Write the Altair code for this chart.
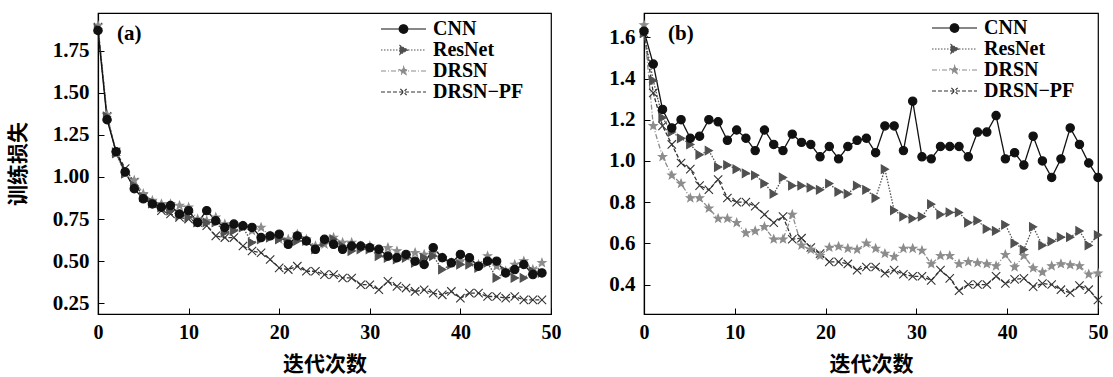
import math
import altair as alt
import pandas as pd

# ---------------- data ----------------
models = ["CNN", "ResNet", "DRSN", "DRSN−PF"]

epochs_a = list(range(50))
cnn_a = [1.87, 1.34, 1.15, 1.03, 0.93, 0.87, 0.84, 0.82, 0.83, 0.78, 0.80, 0.73, 0.80, 0.74, 0.70, 0.72, 0.71, 0.70, 0.64, 0.65,
         0.66, 0.60, 0.65, 0.62, 0.57, 0.63, 0.60, 0.57, 0.59, 0.59, 0.58, 0.57, 0.53, 0.52, 0.54, 0.50, 0.48, 0.58, 0.52, 0.49,
         0.54, 0.52, 0.47, 0.50, 0.50, 0.43, 0.45, 0.48, 0.42, 0.43]
resnet_a = [1.88, 1.36, 1.14, 1.02, 0.95, 0.88, 0.85, 0.82, 0.80, 0.77, 0.76, 0.73, 0.73, 0.73, 0.67, 0.68, 0.70, 0.61, 0.63, 0.64,
            0.63, 0.61, 0.62, 0.62, 0.57, 0.61, 0.63, 0.59, 0.56, 0.57, 0.57, 0.53, 0.52, 0.51, 0.52, 0.49, 0.52, 0.53, 0.45, 0.48,
            0.48, 0.48, 0.46, 0.49, 0.40, 0.44, 0.40, 0.40, 0.44, 0.43]
drsn_a = [1.90, 1.37, 1.14, 1.02, 0.98, 0.90, 0.86, 0.84, 0.84, 0.83, 0.82, 0.75, 0.74, 0.76, 0.72, 0.70, 0.71, 0.68, 0.70, 0.65,
          0.63, 0.63, 0.66, 0.63, 0.59, 0.60, 0.64, 0.61, 0.61, 0.59, 0.59, 0.56, 0.58, 0.56, 0.53, 0.55, 0.54, 0.55, 0.52, 0.49,
          0.50, 0.50, 0.48, 0.53, 0.47, 0.44, 0.48, 0.50, 0.45, 0.49]
drsnpf_a = [1.89, 1.36, 1.15, 1.05, 0.97, 0.88, 0.84, 0.80, 0.78, 0.76, 0.75, 0.73, 0.71, 0.65, 0.64, 0.64, 0.59, 0.56, 0.55, 0.51,
            0.46, 0.45, 0.47, 0.44, 0.44, 0.42, 0.42, 0.40, 0.40, 0.36, 0.36, 0.33, 0.38, 0.35, 0.34, 0.32, 0.33, 0.31, 0.30, 0.32,
            0.28, 0.31, 0.31, 0.29, 0.29, 0.28, 0.29, 0.27, 0.27, 0.27]

# panel (b): 50 samples spread evenly over 0..50
epochs_b = [round(i * 50 / 49, 4) for i in range(50)]
cnn_b = [1.63, 1.47, 1.25, 1.16, 1.20, 1.11, 1.12, 1.20, 1.19, 1.10, 1.15, 1.11, 1.05, 1.15, 1.08, 1.05, 1.13, 1.09, 1.08, 1.02,
         1.07, 1.01, 1.07, 1.10, 1.11, 1.04, 1.17, 1.17, 1.05, 1.29, 1.02, 1.01, 1.07, 1.07, 1.07, 1.02, 1.14, 1.14, 1.22, 1.01,
         1.04, 0.98, 1.12, 1.00, 0.92, 1.01, 1.16, 1.08, 0.99, 0.92]
resnet_b = [1.62, 1.39, 1.21, 1.14, 1.11, 1.08, 1.03, 1.05, 0.97, 0.98, 0.96, 0.94, 0.93, 0.89, 0.84, 0.92, 0.88, 0.88, 0.87, 0.86,
            0.89, 0.85, 0.84, 0.88, 0.86, 0.82, 0.96, 0.76, 0.73, 0.72, 0.73, 0.79, 0.74, 0.75, 0.75, 0.70, 0.71, 0.67, 0.66, 0.69,
            0.60, 0.57, 0.68, 0.59, 0.61, 0.63, 0.63, 0.66, 0.59, 0.64]
drsn_b = [1.66, 1.17, 1.02, 0.93, 0.89, 0.82, 0.82, 0.77, 0.72, 0.72, 0.70, 0.65, 0.66, 0.68, 0.62, 0.62, 0.74, 0.59, 0.57, 0.54,
          0.58, 0.585, 0.575, 0.57, 0.60, 0.575, 0.55, 0.535, 0.575, 0.575, 0.565, 0.50, 0.54, 0.54, 0.50, 0.51, 0.505, 0.50, 0.49, 0.545,
          0.485, 0.54, 0.48, 0.46, 0.49, 0.50, 0.495, 0.49, 0.45, 0.455]
drsnpf_b = [1.62, 1.33, 1.17, 1.08, 0.99, 0.96, 0.88, 0.86, 0.91, 0.82, 0.80, 0.80, 0.78, 0.74, 0.70, 0.73, 0.62, 0.625, 0.58, 0.55,
            0.51, 0.51, 0.50, 0.47, 0.485, 0.485, 0.455, 0.47, 0.45, 0.44, 0.44, 0.42, 0.47, 0.43, 0.37, 0.40, 0.40, 0.40, 0.44, 0.405,
            0.425, 0.43, 0.39, 0.405, 0.40, 0.375, 0.36, 0.395, 0.375, 0.325]

x_ticks = [0, 10, 20, 30, 40, 50]
y_ticks_a = [0.25, 0.50, 0.75, 1.00, 1.25, 1.50, 1.75]
y_ticks_b = [0.4, 0.6, 0.8, 1.0, 1.2, 1.4, 1.6]

# ---------------- styles ----------------
colors = ["#111111", "#505050", "#8c8c8c", "#333333"]
fills = ["#111111", "#505050", "#8c8c8c", "transparent"]
dashes = [[1, 0], [1.5, 1.5], [5, 2, 1, 2], [4, 2]]


def star(scale=1.0):
    pts = []
    for k in range(10):
        ang = math.radians(-90 + 36 * k)
        r = scale if k % 2 == 0 else scale * 0.42
        pts.append(f"{r * math.cos(ang):.3f},{r * math.sin(ang):.3f}")
    return "M" + "L".join(pts) + "Z"


xmark = "M-1,-1L1,1M-1,1L1,-1"
point_shapes = ["circle", "triangle-right", star(1.0), xmark]

line_seg = "M-1,0L1,0"
leg_shapes = [
    line_seg + "M-0.19,0A0.19,0.19,0,1,1,0.19,0A0.19,0.19,0,1,1,-0.19,0Z",
    line_seg + "M-0.16,-0.2L0.2,0L-0.16,0.2Z",
    line_seg + star(0.19),
    line_seg + "M-0.14,-0.14L0.14,0.14M-0.14,0.14L0.14,-0.14",
]

SERIF = "Liberation Serif"
CJK = "Noto Sans CJK SC"
H = 301


def panel(xs, series, ydomain, yticks, yfmt, ytitle, label, legx, legy, width, tagx):
    rows = []
    for m in ["DRSN−PF", "DRSN", "ResNet", "CNN"]:
        for x, v in zip(xs, series[m]):
            rows.append({"x": x, "loss": v, "model": m})
    df = pd.DataFrame(rows)
    base = alt.Chart(df)
    xscale = alt.Scale(domain=[0, 50], nice=False, zero=False)
    yscale = alt.Scale(domain=ydomain, nice=False, zero=False)

    ax_lab_x = alt.Axis(values=x_ticks, format="d", ticks=False, domain=True, domainColor="black",
                        domainWidth=1.2, labelFont=SERIF, labelFontSize=20, labelFontWeight="bold",
                        labelColor="black", labelPadding=8, labelFlush=False, grid=False,
                        titleFont=CJK, titleFontSize=21, titleFontWeight="bold", titleColor="black",
                        titlePadding=11)
    yax_kw = dict(values=yticks, format=yfmt, ticks=False, domain=True, domainColor="black",
                  domainWidth=1.2, labelFont=SERIF, labelFontSize=21, labelFontWeight="bold",
                  labelColor="black", labelPadding=9, labelFlush=False, grid=False)
    if ytitle:
        yax_kw.update(titleFont=CJK, titleFontSize=21, titleFontWeight="bold", titleColor="black",
                      titlePadding=24)
    ax_lab_y = alt.Axis(**yax_kw)
    ax_tick_x = alt.Axis(values=x_ticks, orient="bottom", ticks=True, tickSize=6, tickColor="black",
                         tickWidth=1, domain=False, labels=False, grid=False, offset=-6)
    ax_tick_y = alt.Axis(values=yticks, orient="left", ticks=True, tickSize=6, tickColor="black",
                         tickWidth=1, domain=False, labels=False, grid=False, offset=-6)

    lines = base.mark_line(strokeWidth=1.3).encode(
        x=alt.X("x:Q", scale=xscale, axis=ax_lab_x, title="迭代次数"),
        y=alt.Y("loss:Q", scale=yscale, axis=ax_lab_y, title=ytitle if ytitle else None),
        stroke=alt.Stroke("model:N", scale=alt.Scale(domain=models, range=colors), legend=None),
        strokeDash=alt.StrokeDash("model:N", scale=alt.Scale(domain=models, range=dashes), legend=None),
    )
    points = base.mark_point(opacity=1, strokeWidth=1.1, size=70).encode(
        x=alt.X("x:Q", scale=xscale, axis=ax_tick_x, title=None),
        y=alt.Y("loss:Q", scale=yscale, axis=ax_tick_y, title=None),
        shape=alt.Shape("model:N", scale=alt.Scale(domain=models, range=point_shapes), legend=None),
        stroke=alt.Stroke("model:N", scale=alt.Scale(domain=models, range=colors), legend=None),
        fill=alt.Fill("model:N", scale=alt.Scale(domain=models, range=fills), legend=None),
    )
    leg = alt.Legend(orient="none", legendX=legx, legendY=legy, title=None, symbolSize=2025,
                     clipHeight=21, labelFont=SERIF, labelFontSize=20, labelFontWeight="bold",
                     labelColor="black", labelOffset=6, padding=0, rowPadding=0,
                     symbolStrokeWidth=1.2)
    legend_layer = base.transform_filter("datum.x < -100").mark_point(opacity=1, strokeWidth=1.2).encode(
        shape=alt.Shape("model:N", scale=alt.Scale(domain=models, range=leg_shapes), legend=leg),
        stroke=alt.Stroke("model:N", scale=alt.Scale(domain=models, range=colors), legend=leg),
        fill=alt.Fill("model:N", scale=alt.Scale(domain=models, range=fills), legend=leg),
        strokeDash=alt.StrokeDash("model:N", scale=alt.Scale(domain=models, range=dashes), legend=leg),
    )
    tag = alt.Chart(pd.DataFrame({"t": [label]})).mark_text(
        align="left", baseline="middle", font=SERIF, fontSize=21, fontWeight="bold", color="black"
    ).encode(text="t:N", x=alt.value(tagx), y=alt.value(21))

    return alt.layer(lines, points, legend_layer, tag).resolve_scale(
        shape="independent", stroke="independent", fill="independent", strokeDash="independent"
    ).resolve_axis(x="independent", y="independent").properties(width=width, height=H)


series_a = {"CNN": cnn_a, "ResNet": resnet_a, "DRSN": drsn_a, "DRSN−PF": drsnpf_a}
series_b = {"CNN": cnn_b, "ResNet": resnet_b, "DRSN": drsn_b, "DRSN−PF": drsnpf_b}

pa = panel(epochs_a, series_a, [0.186, 1.974], y_ticks_a, ".2f", "训练损失", "(a)", 282, 5.5, 453, 19)
pb = panel(epochs_b, series_b, [0.257, 1.718], y_ticks_b, ".1f", None, "(b)", 287, 4.5, 454, 24)

chart = alt.hconcat(pa, pb, spacing=46).properties(
    padding={"left": 6, "top": 12, "right": 0, "bottom": 0},
    background="white",
).configure_view(stroke="black", strokeWidth=1.2)

chart.save("out.html", embed_options={"renderer": "svg", "actions": False})
